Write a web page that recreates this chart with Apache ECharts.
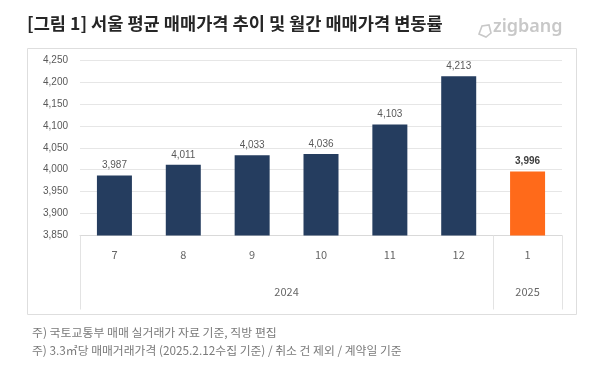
<!DOCTYPE html>
<html><head><meta charset="utf-8">
<script src="https://cdn.jsdelivr.net/npm/echarts@6/dist/echarts.min.js"></script>
<style>html,body{margin:0;padding:0;background:#fff}#c{width:599px;height:378px}</style>
</head><body><div id="c"></div>
<script>
const months = ['7','8','9','10','11','12','1'];
const prices = [3987, 4011, 4033, 4036, 4103, 4213, 3996];
const years = ['2024','2025'];
const monthYear = [0,0,0,0,0,0,1]; // index into years per month
const yTicks = {min: 3850, max: 4250, step: 50};
const titleText = '[그림 1] 서울 평균 매매가격 추이 및 월간 매매가격 변동률';
const notes = ['주) 국토교통부 매매 실거래가 자료 기준, 직방 편집', '주) 3.3㎡당 매매거래가격 (2025.2.12수집 기준) / 취소 건 제외 / 계약일 기준'];

// year spans derived from months
const yearStart = years.map(function(_, yi){ return monthYear.indexOf(yi); });
const yearEnd = years.map(function(_, yi){ return monthYear.lastIndexOf(yi) + 1; });
const yearCenters = years.map(function(_, yi){ return (yearStart[yi] + yearEnd[yi]) / 2; });
const boundaries = [0].concat(yearEnd);

const NAVY = '#253d5f', ORANGE = '#ff6a1a';
const fmt = function(v){ return Number(v).toLocaleString('en-US'); };

const chart = echarts.init(document.getElementById('c'), null, {renderer: 'canvas'});
chart.setOption({
  backgroundColor: '#fff',
  animation: false,
  grid: {left: 80, right: 37, top: 60, bottom: 142.5},
  xAxis: [{
    type: 'category', data: months, position: 'bottom',
    axisLine: {show: true, lineStyle: {color: '#d9d9d9', width: 1}},
    axisTick: {show: false},
    axisLabel: {margin: 14, color: '#666', fontSize: 11, fontFamily: 'Noto Sans CJK KR'}
  }, {
    type: 'value', position: 'bottom', min: 0, max: months.length,
    axisLine: {show: false}, splitLine: {show: false},
    axisTick: {show: true, customValues: boundaries, length: 74, lineStyle: {color: '#e3e3e3', width: 1}},
    axisLabel: {customValues: yearCenters, margin: 51, color: '#666', fontSize: 11, fontFamily: 'Noto Sans CJK KR',
      formatter: function(v){ var i = yearCenters.indexOf(v); return i >= 0 ? years[i] : ''; }}
  }],
  yAxis: {
    type: 'value', min: yTicks.min, max: yTicks.max, interval: yTicks.step,
    axisLine: {show: false}, axisTick: {show: false},
    splitLine: {lineStyle: {color: '#e6e6e6', width: 1}},
    axisLabel: {margin: 12, color: '#595959', fontSize: 10, fontFamily: 'Liberation Sans', formatter: fmt}
  },
  series: [{
    type: 'bar', xAxisIndex: 0, barWidth: 35,
    data: prices.map(function(v, i){
      var last = i === prices.length - 1;
      return {value: v, itemStyle: {color: last ? ORANGE : NAVY},
        label: {fontWeight: last ? 'bold' : 'normal', color: last ? '#404040' : '#595959'}};
    }),
    label: {show: true, position: 'top', distance: 5, fontSize: 10, fontFamily: 'Liberation Sans', formatter: function(p){ return fmt(p.value); }}
  }],
  graphic: [
    {type: 'rect', shape: {x: 27.5, y: 48.5, width: 549, height: 266}, style: {fill: 'none', stroke: '#dedede', lineWidth: 1}, z: -1},
    {type: 'text', left: 27, top: 15, style: {text: titleText, fontSize: 17.6, fontWeight: 'bold', fill: '#262626', fontFamily: 'Noto Sans CJK KR'}},
    {type: 'polygon', shape: {points: [[479,34],[482,26],[489,25],[491,33],[486,37]]}, style: {fill: 'none', stroke: '#c8c8c8', lineWidth: 1.6}},
    {type: 'text', left: 493, top: 18, style: {text: 'zigbang', fontSize: 18, fontWeight: 600, fill: '#c8c8c8', fontFamily: 'Noto Sans'}},
    {type: 'text', left: 32, top: 327, style: {text: notes[0], fontSize: 11.9, fill: '#7a7a7a', fontFamily: 'Noto Sans CJK KR'}},
    {type: 'text', left: 32, top: 345, style: {text: notes[1], fontSize: 11.8, fill: '#7a7a7a', fontFamily: 'Noto Sans CJK KR'}}
  ]
});
</script></body></html>
